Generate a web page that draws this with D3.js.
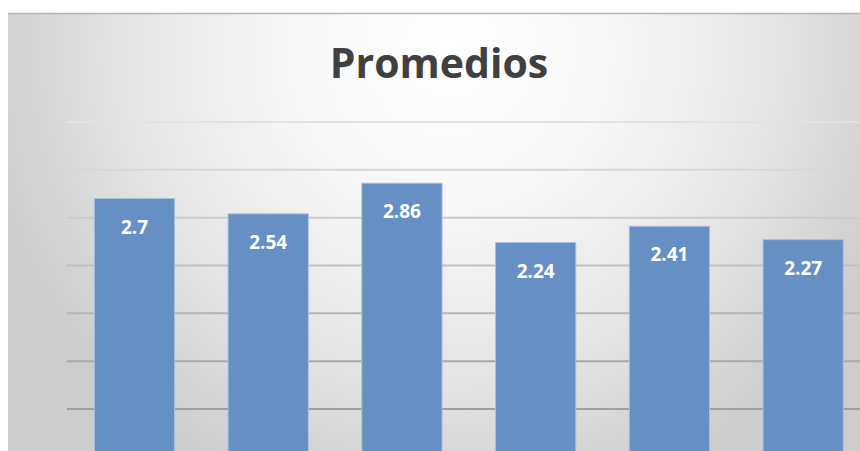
<!DOCTYPE html>
<html>
<head>
<meta charset="utf-8">
<script src="https://cdn.jsdelivr.net/npm/d3@7"></script>
<style>
  html, body { margin: 0; padding: 0; background: #fff; }
  svg { display: block; }
</style>
</head>
<body>
<div id="chart"></div>
<script>
var width = 860;
var height = 451;

// chart data
var categories = ["1", "2", "3", "4", "5", "6"];
var values = [2.7, 2.54, 2.86, 2.24, 2.41, 2.27];
var gridTicks = [0.5, 1, 1.5, 2, 2.5, 3, 3.5];
var title = "Promedios";

var svg = d3.select("#chart")
            .append("svg")
            .attr("width", width)
            .attr("height", height);

// background gradient (light in the middle, grey to the edges)
var defs = svg.append("defs");
var grad = defs.append("radialGradient")
            .attr("id", "bg")
            .attr("gradientUnits", "userSpaceOnUse")
            .attr("cx", 450).attr("cy", 50).attr("r", 470);
grad.append("stop").attr("offset", "0").attr("stop-color", "#ffffff");
grad.append("stop").attr("offset", "0.35").attr("stop-color", "#f7f7f7");
grad.append("stop").attr("offset", "0.7").attr("stop-color", "#e4e4e4");
grad.append("stop").attr("offset", "1").attr("stop-color", "#cdcdcd");

svg.append("rect")
    .attr("x", 8).attr("y", 13)
    .attr("width", width - 8).attr("height", height - 13)
    .style("fill", "url(#bg)");
svg.append("line")
    .attr("x1", 8).attr("x2", width)
    .attr("y1", 13.5).attr("y2", 13.5)
    .style("stroke", "#b4b4b4").style("stroke-width", 1.5);

var xScale = d3.scaleBand()
            .domain(categories)
            .range([67.6, 870])
            .paddingInner(0.4)
            .paddingOuter(0.2);

var yScale = d3.scaleLinear()
            .domain([0, 3.5])
            .range([456.8, 122]);

var gridShade = d3.scaleLinear()
            .domain([3.5, 0.5])
            .range(["#e2e2e2", "#9e9e9e"]);

// gridlines
svg.append("g")
    .selectAll("line")
    .data(gridTicks)
    .enter()
    .append("line")
    .attr("x1", 67)
    .attr("x2", width)
    .attr("y1", function(d){ return yScale(d); })
    .attr("y2", function(d){ return yScale(d); })
    .style("stroke", function(d){ return gridShade(d); })
    .style("stroke-width", 2);

// bars
svg.append("g")
    .selectAll("rect")
    .data(values)
    .enter()
    .append("rect")
    .attr("x", function(d, i){ return xScale(categories[i]); })
    .attr("y", function(d){ return yScale(d); })
    .attr("width", xScale.bandwidth())
    .attr("height", function(d){ return yScale(0) - yScale(d); })
    .style("fill", "#6690c4")
    .style("stroke", "#a9c0df")
    .style("stroke-width", 1);

// value labels
svg.append("g")
    .selectAll("text")
    .data(values)
    .enter()
    .append("text")
    .attr("x", function(d, i){ return xScale(categories[i]) + xScale.bandwidth() / 2; })
    .attr("y", function(d){ return yScale(d) + 35; })
    .attr("text-anchor", "middle")
    .style("font-family", "'Open Sans', sans-serif")
    .style("font-weight", "bold")
    .style("font-size", "19px")
    .style("fill", "#ffffff")
    .text(function(d){ return d; });

// title
svg.append("text")
    .attr("x", 439)
    .attr("y", 78)
    .attr("text-anchor", "middle")
    .style("font-family", "'Open Sans', sans-serif")
    .style("font-weight", "bold")
    .style("font-size", "41px")
    .style("fill", "#404040")
    .text(title);
</script>
</body>
</html>
